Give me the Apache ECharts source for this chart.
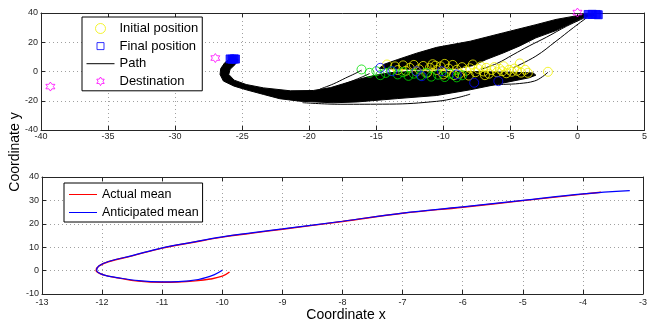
<!DOCTYPE html>
<html>
<head>
<meta charset="utf-8">
<script src="https://cdn.jsdelivr.net/npm/echarts@6/dist/echarts.min.js"></script>
<style>
  html, body { margin: 0; padding: 0; background: #fff; }
  #main { width: 650px; height: 324px; }
</style>
</head>
<body>
<div id="main"></div>
<script>
var dom = document.getElementById('main');
var chart = echarts.init(dom);

// top plot: initial positions (several colours), final positions, destinations
var initialYellow = [
  [-14.2, 4.8], [-13.6, 3.5], [-13.0, 4.2], [-12.5, 2.5], [-12.2, 4.5], [-11.8, 1.5], [-11.5, 3.8],
  [-11.0, 2.6], [-10.8, 5.0], [-10.5, 1.0], [-10.2, 3.5], [-9.8, -0.5], [-9.6, 2.0], [-9.3, 4.5],
  [-9.0, 1.2], [-8.8, -1.5], [-8.6, 3.0], [-8.3, 0.5], [-8.0, 2.2], [-7.8, 4.8], [-7.6, -0.5],
  [-7.4, 1.8], [-7.2, 3.5], [-7.0, 0.0], [-6.8, 2.5], [-6.6, -1.5], [-6.4, 1.0], [-6.2, 3.0],
  [-6.0, -0.5], [-5.8, 1.8], [-5.6, 0.2], [-5.5, 3.6], [-5.3, -1.2], [-5.1, 1.2], [-4.9, -0.2],
  [-4.7, 2.0], [-4.5, 0.5], [-4.3, 5.5], [-4.2, -0.8], [-3.9, 1.2], [-3.7, -0.9], [-2.2, -0.2],
  [-12.8, 0.5], [-11.2, -0.8], [-10.0, -2.0], [-9.2, -2.5], [-13.4, 1.0], [-8.1, -2.8],
  [-6.9, -2.5], [-10.6, 4.0], [-9.9, 5.2], [-12.0, 0.0]
];
var initialGreen = [
  [-16.1, 1.4], [-15.5, -0.9], [-15.0, 0.2], [-14.3, -1.0], [-13.9, 0.3], [-13.4, -2.0],
  [-13.0, -0.5], [-12.6, -3.0], [-12.2, -1.5], [-11.7, -2.8], [-11.3, -1.0], [-10.9, -3.5],
  [-10.4, -2.2], [-9.9, -3.8], [-9.5, -1.5], [-9.0, -4.0], [-8.6, -2.6], [-14.7, -2.5]
];
var initialBlue = [
  [-14.7, 2.5], [-13.8, 0.2], [-12.0, 0.2], [-11.6, -3.2], [-10.1, 0.2], [-9.0, -2.0],
  [-7.7, -7.7], [-5.9, -6.6]
];
var finalPos = [
  [-25.9, 8.6], [-25.75, 8.4], [-25.6, 8.6], [-25.5, 8.5],
  [0.8, 39.0], [1.1, 39.1], [1.4, 39.0], [1.55, 38.8]
];
var destinations = [[-39.3, -10.3], [-27.0, 9.2], [0.0, 40.3]];

// outlines of the two dense bundles of paths
var pathBandLeft = [
  [-25.4, 8.5], [-25.9, 8.8], [-26.3, 6], [-26.6, 2], [-26.65, -2], [-26.4, -6.5], [-25.6, -10],
  [-24.7, -12.5], [-23.4, -15.7], [-22.2, -18.6], [-20.7, -20.3], [-18.2, -21.4], [-16.4, -20.8],
  [-13.4, -18.5], [-10.5, -16.4], [-8, -12.5], [-5.5, -7.8], [-3.6, -4.3], [-3.1, -2.5],
  [-3.3, -1], [-5, -0.5], [-8, 0], [-12, 0.2], [-14, -0.8], [-15.2, -2.8], [-16.4, -5.5],
  [-17.5, -8.5], [-18.4, -11], [-19.7, -13], [-21.4, -13.2], [-23.4, -11.2], [-24.7, -8.9],
  [-25.6, -5.9], [-26, -2], [-25.9, 1.5], [-25.5, 5], [-25.3, 8]
];
var pathBandRight = [
  [-14.8, 2], [-14.4, 5], [-13.4, 8.2], [-12, 12.5], [-10.5, 16.5], [-8, 20.7], [-5.5, 26.5],
  [-3.1, 32], [-1.6, 35.6], [0.6, 39.2], [1.2, 39], [1.2, 38], [0.6, 37.6], [-1.6, 28],
  [-3.1, 23], [-4.3, 17.5], [-5.5, 12.8], [-6.8, 8.2], [-7.8, 4], [-9, 2], [-12, 1.5]
];
// single paths that stand apart from the bundles
var pathLines = [
  [[-2.2, -0.5], [-2.6, -3.5], [-3.2, -6.5], [-4.3, -8.2], [-5.5, -8.8], [-7, -9.5], [-8.5, -11]],
  [[-20.5, -21.3], [-17.7, -22.4], [-14, -22.3], [-10.5, -20.4], [-9, -18], [-8, -15.5]],
  [[-7.2, 1.5], [-6, 5.5], [-4.8, 11.5], [-3.6, 17.5], [-2.3, 23.5], [-0.8, 31], [0.8, 37.8]],
  [[-4.8, 2.5], [-3.1, 10.5], [-1.6, 20.7], [-0.3, 30], [0.8, 37.5]],
  [[-16.1, 0.9], [-16.6, -1.5], [-17.3, -4.5], [-18.2, -8.5], [-19.2, -12]],
  [[-15.5, -1.4], [-16.0, -3.5], [-16.8, -6.5], [-17.8, -10]]
];

// bottom plot: mean trajectories
var actualMean = [
  [-9.88, -0.6], [-10.0, -2.4], [-10.2, -3.6], [-10.45, -4.4], [-10.75, -4.9], [-11.0, -5.0],
  [-11.4, -4.5], [-11.72, -3.2], [-11.98, -1.8], [-12.1, 0.0], [-12.05, 2.0], [-11.88, 3.9],
  [-11.5, 6.3], [-11.0, 9.6], [-10.5, 12.0], [-10.0, 14.3], [-9.5, 16.0], [-9.0, 17.7],
  [-8.0, 21.0], [-7.0, 24.5], [-6.0, 27.1], [-5.0, 29.9], [-4.0, 32.7], [-3.7, 33.5]
];
var anticipatedMean = [
  [-10.0, 0.1], [-10.13, -1.7], [-10.4, -3.8], [-10.73, -4.7], [-11.0, -4.8], [-11.39, -4.3],
  [-11.72, -3.1], [-11.99, -1.7], [-12.09, 0.1], [-12.05, 2.1], [-11.88, 4.0], [-11.5, 6.4],
  [-11.0, 9.7], [-10.51, 12.1], [-10.0, 14.4], [-9.52, 16.1], [-9.0, 17.8], [-8.0, 21.1],
  [-7.0, 24.6], [-6.0, 27.2], [-5.0, 30.0], [-4.0, 32.8], [-3.22, 34.2]
];

// axis ranges
var topX = [-40, 5, 5];
var topY = [-40, 40, 20];
var botX = [-13, -3, 1];
var botY = [-10, 40, 10];

var font = '"Liberation Sans", Arial, sans-serif';
var axisColor = '#262626';

function makeAxis(range, gridIndex, position, main) {
  return {
    type: 'value',
    gridIndex: gridIndex,
    position: position,
    min: range[0],
    max: range[1],
    interval: range[2],
    axisLine: { show: true, onZero: false, lineStyle: { color: axisColor, width: 1 } },
    axisTick: { show: true, inside: true, length: 4, lineStyle: { color: axisColor } },
    axisLabel: {
      show: main,
      color: axisColor,
      fontFamily: font,
      fontSize: 9,
      margin: (position === 'bottom' ? (gridIndex === 0 ? 2 : 4) : 3),
      showMaxLabel: true,
      showMinLabel: true
    },
    splitLine: {
      show: main,
      lineStyle: { color: '#a0a0a0', type: [1, 3], width: 1 }
    }
  };
}

function hollow(color) {
  return { color: 'rgba(0,0,0,0)', borderColor: color, borderWidth: 1 };
}

var hexagram = 'path://M0,-10L-2.89,-5L-8.66,-5L-5.77,0L-8.66,5L-2.89,5L0,10L2.89,5L8.66,5L5.77,0L8.66,-5L2.89,-5Z';
// legend icons laid out in a 28x10 box
var lineIcon = 'path://M0,0M28,10M0,4.5L28,4.5L28,5.5L0,5.5Z';
var squareIcon = 'path://M0,0M28,10M10.5,1.5L17.5,1.5L17.5,8.5L10.5,8.5Z';
var hexIcon = 'path://M0,0M28,10M14,0.7L12.76,2.85L10.28,2.85L11.52,5L10.28,7.15L12.76,7.15L14,9.3' +
  'L15.24,7.15L17.72,7.15L16.48,5L17.72,2.85L15.24,2.85Z';
var bands = [pathBandLeft, pathBandRight];

var series = [];
series.push({
  name: 'pathBand',
  type: 'custom',
  xAxisIndex: 0,
  yAxisIndex: 0,
  silent: true,
  data: [0, 1],
  renderItem: function (params, api) {
    var pts = bands[params.dataIndex].map(function (p) { return api.coord(p); });
    return {
      type: 'polygon',
      shape: { points: pts },
      style: { fill: '#000', stroke: '#000', lineWidth: 1 }
    };
  },
  z: 2
});
pathLines.forEach(function (line) {
  series.push({
    name: 'Path',
    type: 'line',
    xAxisIndex: 0,
    yAxisIndex: 0,
    data: line,
    symbol: 'none',
    smooth: 0.4,
    lineStyle: { color: '#000', width: 1 },
    itemStyle: { color: '#000' },
    z: 2
  });
});
series.push({
  name: 'Initial position', type: 'scatter', xAxisIndex: 0, yAxisIndex: 0,
  data: initialYellow, symbol: 'circle', symbolSize: 9, itemStyle: hollow('#f0f000'), z: 3
});
series.push({
  name: 'initGreen', type: 'scatter', xAxisIndex: 0, yAxisIndex: 0,
  data: initialGreen, symbol: 'circle', symbolSize: 9, itemStyle: hollow('#00e000'), z: 3
});
series.push({
  name: 'initBlue', type: 'scatter', xAxisIndex: 0, yAxisIndex: 0,
  data: initialBlue, symbol: 'circle', symbolSize: 9, itemStyle: hollow('#0000ff'), z: 3
});
series.push({
  name: 'Final position', type: 'scatter', xAxisIndex: 0, yAxisIndex: 0, clip: false,
  data: finalPos, symbol: 'rect', symbolSize: 8,
  itemStyle: { color: '#0000ff', borderColor: '#0000ff', borderWidth: 1 }, z: 4
});
series.push({
  name: 'Destination', type: 'scatter', xAxisIndex: 0, yAxisIndex: 0, clip: false,
  data: destinations, symbol: hexagram, symbolSize: 9, itemStyle: hollow('#ff00ff'), z: 4
});
series.push({
  name: 'Actual mean', type: 'line', xAxisIndex: 2, yAxisIndex: 2,
  data: actualMean, symbol: 'none', smooth: 0.4,
  lineStyle: { color: '#ff0000', width: 1.4 }, itemStyle: { color: '#ff0000' }, z: 2
});
series.push({
  name: 'Anticipated mean', type: 'line', xAxisIndex: 2, yAxisIndex: 2,
  data: anticipatedMean, symbol: 'none', smooth: 0.4,
  lineStyle: { color: '#0000ff', width: 1.2 }, itemStyle: { color: '#0000ff' }, z: 3
});

var legendBase = {
  orient: 'vertical',
  backgroundColor: '#fff',
  borderColor: '#000',
  borderWidth: 1,
  borderRadius: 0,
  itemWidth: 28,
  itemHeight: 10,
  selectedMode: false,
  textStyle: { color: '#000', fontFamily: font, fontSize: 13 }
};

var option = {
  animation: false,
  backgroundColor: '#fff',
  grid: [
    { left: 41, top: 13, width: 607, height: 117 },
    { left: 42, top: 177, width: 607, height: 117 }
  ],
  xAxis: [
    makeAxis(topX, 0, 'bottom', true),
    makeAxis(topX, 0, 'top', false),
    makeAxis(botX, 1, 'bottom', true),
    makeAxis(botX, 1, 'top', false)
  ],
  yAxis: [
    makeAxis(topY, 0, 'left', true),
    makeAxis(topY, 0, 'right', false),
    makeAxis(botY, 1, 'left', true),
    makeAxis(botY, 1, 'right', false)
  ],
  legend: [
    Object.assign({}, legendBase, {
      left: 82, top: 17,
      padding: [5, 4, 3, 4],
      itemGap: 4.6,
      data: [
        { name: 'Initial position', itemStyle: hollow('#f0f000') },
        { name: 'Final position', icon: squareIcon, itemStyle: hollow('#0000ff') },
        { name: 'Path', icon: lineIcon },
        { name: 'Destination', icon: hexIcon, itemStyle: hollow('#ff00ff') }
      ]
    }),
    Object.assign({}, legendBase, {
      left: 64, top: 183,
      padding: [5, 4, 3, 5],
      itemGap: 5,
      textStyle: { color: '#000', fontFamily: font, fontSize: 12.5 },
      data: [
        { name: 'Actual mean', icon: lineIcon },
        { name: 'Anticipated mean', icon: lineIcon }
      ]
    })
  ],
  graphic: [
    {
      type: 'text', x: 15, y: 152, rotation: Math.PI / 2,
      style: { text: 'Coordinate y', fill: '#000', font: '14px ' + font, align: 'center', verticalAlign: 'middle' }
    },
    {
      type: 'text', x: 346, y: 315,
      style: { text: 'Coordinate x', fill: '#000', font: '14px ' + font, align: 'center', verticalAlign: 'middle' }
    }
  ],
  series: series
};

chart.setOption(option);
</script>
</body>
</html>
